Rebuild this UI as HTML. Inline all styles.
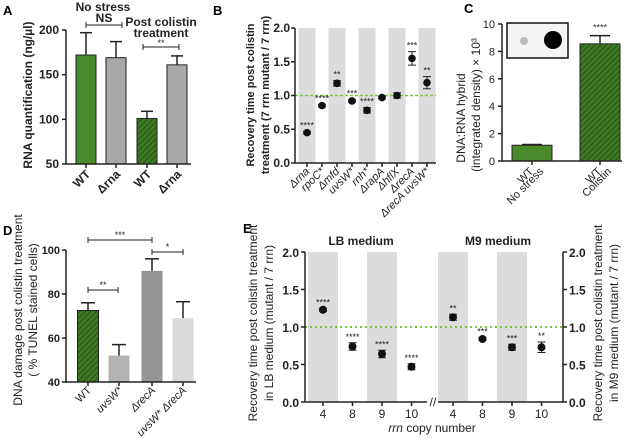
<!DOCTYPE html>
<html><head><meta charset="utf-8"><style>
body{margin:0;background:#fff}
svg{display:block;font-family:"Liberation Sans",sans-serif}
.t{font-weight:bold;font-size:12px;fill:#222}
.s{font-size:9px;fill:#222}
</style></head><body>
<svg id="fig" width="642" height="441" viewBox="0 0 642 441" xmlns="http://www.w3.org/2000/svg">
<defs>
<pattern id="hatch" patternUnits="userSpaceOnUse" width="4" height="4" patternTransform="rotate(45)">
<rect width="4" height="4" fill="#3f7a22"/><line x1="0" y1="0" x2="0" y2="4" stroke="#24501a" stroke-width="2"/></pattern>
</defs>
</svg>
<script>
const NS="http://www.w3.org/2000/svg";
const svg=document.getElementById('fig');
function el(tag,attrs,parent,txt){const e=document.createElementNS(NS,tag);for(const k in attrs)e.setAttribute(k,attrs[k]);if(txt!==undefined)e.textContent=txt;(parent||svg).appendChild(e);return e;}
function line(x1,y1,x2,y2,w,c,dash){return el('line',{x1,y1,x2,y2,stroke:c||'#222','stroke-width':w||1.5,'stroke-dasharray':dash||'none'});}
function vlabel(x,y,txt,size,bold){return el('text',{x:x,y:y,'text-anchor':'middle',transform:`rotate(-90 ${x} ${y})`,'font-size':size||12,'font-weight':bold?'bold':'normal',fill:'#222'},svg,txt);}

// ---------- Panel A ----------
const aCats=['WT','Δrna','WT','Δrna'];
const aVals=[172,169,101,161];
const aErr=[197,187,109,171];
const aTicks=[50,100,150,200];
const aY=v=>164-(v-50)/150*134;
const aX=[86,116,147,177];
const aFill=['#4a8a2a','#a8a8a8','url(#hatch)','#a8a8a8'];
let t=el('text',{x:3,y:15,'font-weight':'bold','font-size':13},svg,'A');

aVals.forEach((v,i)=>{
  const g=el('g',{});
  
  
  line(aX[i],aY(v),aX[i],aY(aErr[i]));line(aX[i]-6,aY(aErr[i]),aX[i]+6,aY(aErr[i]));
  el('rect',{x:aX[i]-10,y:aY(v),width:20,height:164-aY(v),fill:aFill[i],stroke:'#222','stroke-width':1},g);
  const lb=el('text',{x:aX[i]+5,y:175,'text-anchor':'end',transform:`rotate(-45 ${aX[i]+5} 175)`,class:'t'},svg,aCats[i]);
  
  line(aX[i],164,aX[i],168);
});
line(66,30,66,164);line(66,164,191,164);
aTicks.forEach(v=>{line(62,aY(v),66,aY(v));el('text',{x:59,y:aY(v)+4,'text-anchor':'end',class:'t','font-size':12},svg,v);});
t=vlabel(32,95,'RNA quantification (ng/µl)',12,true);

el('text',{x:103,y:11,'text-anchor':'middle',class:'t'},svg,'No stress');
el('text',{x:104,y:22,'text-anchor':'middle',class:'t','font-size':10},svg,'NS');
line(86,25,122,25,1);line(86,22,86,28,1);line(122,22,122,28,1);
el('text',{x:161,y:26,'text-anchor':'middle',class:'t'},svg,'Post colistin');
el('text',{x:161,y:37,'text-anchor':'middle',class:'t'},svg,'treatment');
el('text',{x:161,y:46,'text-anchor':'middle',class:'s'},svg,'**');
line(143,47,179,47,1);line(143,44,143,50,1);line(179,44,179,50,1);

// ---------- Panel B ----------
const bCats=['Δrna','rpoC*','Δmfd','uvsW*','rnh*','ΔrapA','ΔhflX','ΔrecA','ΔrecA uvsW*'];
const bVals=[0.45,0.85,1.18,0.92,0.78,0.97,1.0,1.55,1.19];
const bErr=[0.02,0.02,0.04,0.02,0.04,0.02,0.04,0.1,0.09];
const bStars=['****','****','**','***','****','','','***','**'];
const bTicks=[0,0.5,1.0,1.5,2.0];
const bY=v=>163-v/2*135;
const bX=i=>307+i*15;
el('text',{x:213,y:15,'font-weight':'bold','font-size':13},svg,'B');
bCats.forEach((c,i)=>{if(i%2==0){const r=el('rect',{x:bX(i)-8.5,y:28,width:17,height:135,fill:'#dcdcdc'});}});
line(295,bY(1),436,bY(1),1.5,'#7cc243','3 2');
bVals.forEach((v,i)=>{
  const x=bX(i);
  line(x-4,bY(v+bErr[i]),x+4,bY(v+bErr[i]),1);line(x-4,bY(v-bErr[i]),x+4,bY(v-bErr[i]),1);line(x,bY(v+bErr[i]),x,bY(v-bErr[i]),1);
  const p=el('circle',{cx:x,cy:bY(v),r:3.8,fill:'#111'});
  
  if(bStars[i])el('text',{x:x,y:bY(v+bErr[i])-3,'text-anchor':'middle',class:'s'},svg,bStars[i]);
  line(x,163,x,167);
  el('text',{x:x+3,y:172,'text-anchor':'end','font-style':'italic','font-size':11,fill:'#222',transform:`rotate(-45 ${x+3} 172)`},svg,bCats[i]);
});
line(295,28,295,163);line(295,163,436,163);
bTicks.forEach(v=>{line(291,bY(v),295,bY(v));el('text',{x:290,y:bY(v)+4,'text-anchor':'end',class:'t','font-size':11},svg,v.toFixed(1));});
vlabel(254,95,'Recovery time post colistin',11,true);
vlabel(269,95,'treatment (7 rrn mutant / 7 rrn)',11,true);

// ---------- Panel C ----------
const cCats=['WT No stress','WT Colistin'];
const cVals=[1.15,8.55];
const cErr=[0.05,0.6];
const cTicks=[0,2,4,6,8,10];
const cY=v=>161-v/10*137;
const cX=[532,600];
const cFill=['#4a8a2a','url(#hatch)'];
el('text',{x:464,y:13,'font-weight':'bold','font-size':13},svg,'C');
cVals.forEach((v,i)=>{
  line(cX[i],cY(v),cX[i],cY(v+cErr[i]));line(cX[i]-10,cY(v+cErr[i]),cX[i]+10,cY(v+cErr[i]));
  const r=el('rect',{x:cX[i]-20,y:cY(v),width:40,height:161-cY(v),fill:cFill[i],stroke:'#222','stroke-width':1});
  
  line(cX[i],161,cX[i],165);
});
el('text',{x:cX[1],y:cY(cVals[1]+cErr[1])-5,'text-anchor':'middle',class:'s'},svg,'****');
el('text',{x:cX[0]+2,y:172,'text-anchor':'end',transform:`rotate(-45 ${cX[0]+2} 172)`,'font-size':11,fill:'#222'},svg,'WT');
el('text',{x:cX[0]+12,y:172,'text-anchor':'end',transform:`rotate(-45 ${cX[0]+12} 172)`,'font-size':11,fill:'#222'},svg,'No stress');
el('text',{x:cX[1]+2,y:172,'text-anchor':'end',transform:`rotate(-45 ${cX[1]+2} 172)`,'font-size':11,fill:'#222'},svg,'WT');
el('text',{x:cX[1]+12,y:172,'text-anchor':'end',transform:`rotate(-45 ${cX[1]+12} 172)`,'font-size':11,fill:'#222'},svg,'Colistin');
line(502,24,502,161);line(502,161,622,161);
cTicks.forEach(v=>{line(498,cY(v),502,cY(v));el('text',{x:495,y:cY(v)+4,'text-anchor':'end','font-size':11,fill:'#222'},svg,v);});
el('rect',{x:507,y:23,width:61,height:35,fill:'#f4f4f4',stroke:'#111','stroke-width':1.5});
el('circle',{cx:524,cy:41,r:4,fill:'#bbb'});el('circle',{cx:553,cy:40,r:9,fill:'#000'});
vlabel(465,118,'DNA:RNA hybrid',12,false);
vlabel(480,105,'(integrated density) × 10³',12,false);

// ---------- Panel D ----------
const dCats=['WT','uvsW*','ΔrecA','uvsW* ΔrecA'];
const dVals=[72.5,52,90.5,69];
const dErr=[76,57,96,76.5];
const dTicks=[40,60,80,100];
const dY=v=>382-(v-40)/60*132;
const dX=[88,119,152,183];
const dFill=['url(#hatch)','#b4b4b4','#959595','#d9d9d9'];
el('text',{x:3,y:235,'font-weight':'bold','font-size':13},svg,'D');
dVals.forEach((v,i)=>{
  line(dX[i],dY(v),dX[i],dY(dErr[i]));line(dX[i]-7,dY(dErr[i]),dX[i]+7,dY(dErr[i]));
  const r=el('rect',{x:dX[i]-10.5,y:dY(v),width:21,height:382-dY(v),fill:dFill[i],stroke:i==0?'#222':'none','stroke-width':1});
  
  line(dX[i],382,dX[i],386);
  el('text',{x:dX[i]+4,y:391,'text-anchor':'end',transform:`rotate(-45 ${dX[i]+4} 391)`,'font-size':11,'font-style':i?'italic':'normal',fill:'#222'},svg,dCats[i]);
});
line(66,250,66,382);line(66,382,196,382);
dTicks.forEach(v=>{line(62,dY(v),66,dY(v));el('text',{x:60,y:dY(v)+4,'text-anchor':'end','font-size':11,'font-weight':'bold',fill:'#222'},svg,v);});
[[88,152,240,'***'],[152,183,252,'*'],[88,118,290,'**']].forEach(b=>{line(b[0],b[2],b[1],b[2],1);line(b[0],b[2]-3,b[0],b[2]+3,1);line(b[1],b[2]-3,b[1],b[2]+3,1);el('text',{x:(b[0]+b[1])/2,y:b[2]-2,'text-anchor':'middle',class:'s','font-size':11},svg,b[3]);});
vlabel(22,310,'DNA damage post colistin treatment',12,false);
vlabel(37,310,'( % TUNEL stained cells)',12,false);

// ---------- Panel E ----------
const eCats=['4','8','9','10','4','8','9','10'];
const eVals=[1.23,0.74,0.64,0.47,1.13,0.84,0.73,0.73];
const eErr=[0.02,0.05,0.05,0.04,0.04,0.02,0.04,0.07];
const eStars=['****','****','****','****','**','***','***','**'];
const eTicks=[0,0.5,1.0,1.5,2.0];
const eY=v=>402-v/2*150;
const eXpos=i=>i<4?323+i*29.5:453+(i-4)*29.5;
el('text',{x:243,y:233,'font-weight':'bold','font-size':13},svg,'E');
eCats.forEach((c,i)=>{if(i%2==0){const r=el('rect',{x:eXpos(i)-15,y:252,width:30,height:150,fill:'#dcdcdc'});}});
line(305,eY(1),563,eY(1),2,'#7cc243','2 3');
eVals.forEach((v,i)=>{
  const x=eXpos(i);
  line(x-4,eY(v+eErr[i]),x+4,eY(v+eErr[i]),1);line(x-4,eY(v-eErr[i]),x+4,eY(v-eErr[i]),1);line(x,eY(v+eErr[i]),x,eY(v-eErr[i]),1);
  const p=el('circle',{cx:x,cy:eY(v),r:4,fill:'#111'});
  
  el('text',{x:x,y:eY(v+eErr[i])-3,'text-anchor':'middle',class:'s'},svg,eStars[i]);
  line(x,402,x,406);
  el('text',{x:x,y:418,'text-anchor':'middle','font-size':12,fill:'#222'},svg,eCats[i]);
});
line(305,252,305,402);line(563,252,563,402);line(305,402,427,402);line(438,402,563,402);
el('text',{x:433,y:406,'text-anchor':'middle','font-size':12,fill:'#222'},svg,'//');
eTicks.forEach(v=>{line(301,eY(v),305,eY(v));line(563,eY(v),567,eY(v));
  el('text',{x:299,y:eY(v)+5,'text-anchor':'end',class:'t','font-size':13},svg,v.toFixed(1));
  el('text',{x:569,y:eY(v)+5,class:'t','font-size':13},svg,v.toFixed(1));});
el('text',{x:361,y:245,'text-anchor':'middle',class:'t','font-size':14},svg,'LB medium');
el('text',{x:498,y:245,'text-anchor':'middle',class:'t','font-size':14},svg,'M9 medium');
t=el('text',{x:432,y:432,'text-anchor':'middle','font-size':12,fill:'#222'},svg);
el('tspan',{'font-style':'italic'},t,'rrn');el('tspan',{},t,' copy number');
vlabel(257,323,'Recovery time post colistin treatment',12,false);
vlabel(273,323,'in LB medium (mutant / 7 rrn)',12,false);
vlabel(602,323,'Recovery time post colistin treatment',12,false);
vlabel(618,323,'in M9 medium (mutant / 7 rrn)',12,false);
</script>
</body></html>
